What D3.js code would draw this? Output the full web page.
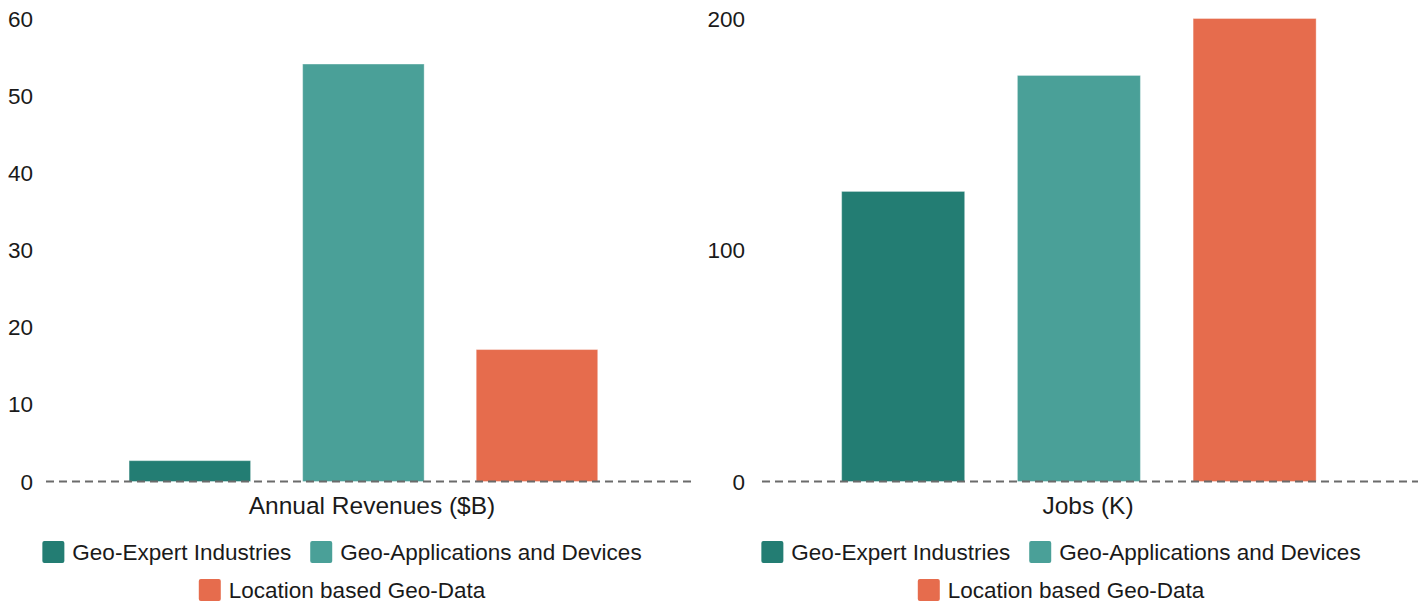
<!DOCTYPE html>
<html>
<head>
<meta charset="utf-8">
<script src="https://cdn.jsdelivr.net/npm/d3@7"></script>
<style>
  html, body { margin: 0; padding: 0; background: #fff; }
  svg { display: block; font-family: "Liberation Sans", Arial, sans-serif; }
</style>
</head>
<body>
<svg id="chart" width="1426" height="603"></svg>
<script>
// ---- data ----
const categories = ["Geo-Expert Industries", "Geo-Applications and Devices", "Location based Geo-Data"];
const colors = ["#237D73", "#4AA098", "#E66C4D"];
const revenueValues = [2.7, 54.1, 17.1];
const jobsValues = [125.3, 175.4, 200];
const revenueTicks = [0, 10, 20, 30, 40, 50, 60];
const jobsTicks = [0, 100, 200];
const panelTitles = ["Annual Revenues ($B)", "Jobs (K)"];

const svg = d3.select("#chart");

const panels = [
  { values: revenueValues, ticks: revenueTicks, max: 60, title: panelTitles[0],
    bandRange: [42.3, 684.5], lineRange: [46, 695], tickX: 33, titleX: 372, legendCx: 342 },
  { values: jobsValues, ticks: jobsTicks, max: 200, title: panelTitles[1],
    bandRange: [753.8, 1404], lineRange: [762, 1418], tickX: 745, titleX: 1088, legendCx: 1061 }
];

const yZero = 481.5, yTop = 18.5;

panels.forEach(p => {
  const g = svg.append("g");
  const x = d3.scaleBand().domain(categories).range(p.bandRange).paddingInner(0.3).paddingOuter(0.5);
  const y = d3.scaleLinear().domain([0, p.max]).range([yZero, yTop]);

  // bars
  g.selectAll("rect.bar").data(categories).enter().append("rect")
    .attr("class", "bar")
    .attr("x", d => x(d))
    .attr("width", x.bandwidth())
    .attr("y", (d, i) => y(p.values[i]))
    .attr("height", (d, i) => yZero - y(p.values[i]))
    .attr("fill", (d, i) => colors[i])
    .attr("stroke", "#ffffff").attr("stroke-opacity", 0.35).attr("stroke-width", 1);

  // zero dashed line
  g.append("line")
    .attr("x1", p.lineRange[0]).attr("x2", p.lineRange[1])
    .attr("y1", y(0)).attr("y2", y(0))
    .attr("stroke", "#6b6b6b").attr("stroke-width", 2).attr("stroke-dasharray", "8,5");

  // y tick labels
  g.selectAll("text.tick").data(p.ticks).enter().append("text")
    .attr("class", "tick")
    .attr("x", p.tickX).attr("y", d => y(d))
    .attr("dy", "0.36em")
    .attr("text-anchor", "end")
    .attr("font-size", 22.5).attr("fill", "#1a1a1a")
    .text(d => d);

  // x title
  g.append("text")
    .attr("x", p.titleX).attr("y", 514)
    .attr("text-anchor", "middle")
    .attr("font-size", 24.5).attr("fill", "#1a1a1a")
    .text(p.title);

  // legend
  const rows = [[0, 1], [2]];
  const rowY = [541, 579];
  const sw = 22, gapText = 8, gapItem = 19;
  rows.forEach((row, ri) => {
    const lg = g.append("g");
    let cx = 0;
    row.forEach((ci, k) => {
      if (k > 0) cx += gapItem;
      lg.append("rect").attr("x", cx).attr("y", rowY[ri]).attr("width", sw).attr("height", sw)
        .attr("rx", 2).attr("fill", colors[ci]);
      const t = lg.append("text").attr("x", cx + sw + gapText).attr("y", rowY[ri] + 18.5)
        .attr("font-size", 22.5).attr("fill", "#1a1a1a").text(categories[ci]);
      cx += sw + gapText + t.node().getComputedTextLength();
    });
    lg.attr("transform", `translate(${p.legendCx - cx / 2},0)`);
  });
});
</script>
</body>
</html>
